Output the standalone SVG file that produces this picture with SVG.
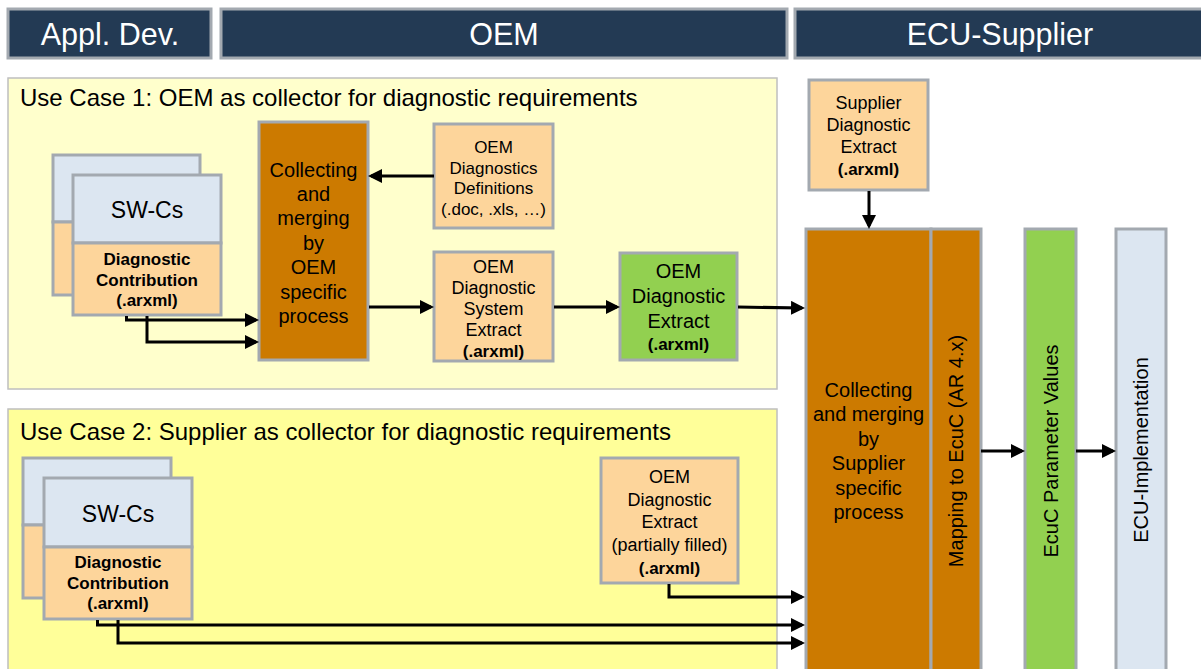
<svg xmlns="http://www.w3.org/2000/svg" width="1201" height="669" viewBox="0 0 1201 669">
<style>
text{font-family:"Liberation Sans",Arial,sans-serif;fill:#000}
.hdr{fill:#233a54;stroke:#a3a9b0;stroke-width:3}
.hdrt{fill:#fff;font-size:30.5px;text-anchor:middle}
.panel{stroke:#bfbfbf;stroke-width:1.5}
.title{font-size:24px}
.box{stroke:#a3a9b0;stroke-width:3}
.blue{fill:#dce6f1}
.lo{fill:#fdd59b}
.dk{fill:#cc7a00}
.gr{fill:#92d050}
.t17{font-size:17px;text-anchor:middle}
.t18{font-size:18px;text-anchor:middle}
.b17{font-size:17px;font-weight:bold;text-anchor:middle}
.t20{font-size:20px;text-anchor:middle}
.t23{font-size:23px;text-anchor:middle}
.con{fill:none;stroke:#000;stroke-width:3;marker-end:url(#ah)}
</style>
<defs>
<marker id="ah" markerUnits="userSpaceOnUse" markerWidth="14" markerHeight="14" refX="11" refY="7" orient="auto">
<path d="M0,0 L14,7 L0,14 z" fill="#000"/>
</marker>
</defs>
<rect width="1201" height="669" fill="#fff"/>

<g id="hdr-appl"><rect class="hdr" x="8" y="9" width="203" height="49"/><text class="hdrt" x="110" y="45">Appl. Dev.</text></g>
<g id="hdr-oem"><rect class="hdr" x="221" y="9" width="566" height="49"/><text class="hdrt" x="504" y="45">OEM</text></g>
<g id="hdr-ecu"><rect class="hdr" x="795" y="9" width="410" height="49"/><text class="hdrt" x="1000" y="45">ECU-Supplier</text></g>

<g id="uc1"><rect class="panel" x="8" y="78" width="769" height="311" fill="#ffffcc"/><text class="title" x="20" y="106">Use Case 1: OEM as collector for diagnostic requirements</text></g>
<g id="uc2"><rect class="panel" x="8" y="409" width="769" height="270" fill="#ffff99"/><text class="title" x="20" y="440">Use Case 2: Supplier as collector for diagnostic requirements</text></g>

<g id="swc1">
<rect class="box blue" x="53" y="155" width="147" height="67"/>
<rect class="box lo" x="53" y="222" width="147" height="73"/>
<rect class="box blue" x="73" y="175" width="148" height="68"/>
<rect class="box lo" x="73" y="243" width="148" height="72"/>
<text class="t23" x="147" y="218">SW-Cs</text>
<text class="b17" x="147" y="265">Diagnostic</text>
<text class="b17" x="147" y="285.5">Contribution</text>
<text class="b17" x="147" y="306">(.arxml)</text>
</g>

<g id="collect-oem">
<rect class="box dk" x="259" y="122" width="109" height="238"/>
<text class="t20" x="313.5" y="176.5">Collecting</text>
<text class="t20" x="313.5" y="200.9">and</text>
<text class="t20" x="313.5" y="225.3">merging</text>
<text class="t20" x="313.5" y="249.7">by</text>
<text class="t20" x="313.5" y="274.1">OEM</text>
<text class="t20" x="313.5" y="298.5">specific</text>
<text class="t20" x="313.5" y="322.9">process</text>
</g>

<g id="oem-defs">
<rect class="box lo" x="434" y="124" width="119" height="104"/>
<text class="t17" x="493.5" y="153">OEM</text>
<text class="t17" x="493.5" y="173.5">Diagnostics</text>
<text class="t17" x="493.5" y="194">Definitions</text>
<text class="t17" x="493.5" y="214.5">(.doc, .xls, …)</text>
</g>

<g id="oem-sys">
<rect class="box lo" x="434" y="252" width="119" height="109"/>
<text class="t18" x="493.5" y="272.5">OEM</text>
<text class="t18" x="493.5" y="293.5">Diagnostic</text>
<text class="t18" x="493.5" y="314.5">System</text>
<text class="t18" x="493.5" y="335.5">Extract</text>
<text class="b17" x="493.5" y="356.5">(.arxml)</text>
</g>

<g id="oem-extract">
<rect class="box gr" x="620" y="253" width="117" height="107"/>
<text class="t20" x="678.5" y="278">OEM</text>
<text class="t20" x="678.5" y="303">Diagnostic</text>
<text class="t20" x="678.5" y="328">Extract</text>
<text class="b17" x="678.5" y="350">(.arxml)</text>
</g>

<g id="supplier-extract">
<rect class="box lo" x="809" y="80" width="119" height="110"/>
<text class="t18" x="868.5" y="108.5">Supplier</text>
<text class="t18" x="868.5" y="131">Diagnostic</text>
<text class="t18" x="868.5" y="153">Extract</text>
<text class="b17" x="868.5" y="175">(.arxml)</text>
</g>

<g id="collect-supplier">
<rect class="box dk" x="806" y="229" width="125" height="450"/>
<text class="t20" x="868.5" y="396.5">Collecting</text>
<text class="t20" x="868.5" y="421">and merging</text>
<text class="t20" x="868.5" y="445.5">by</text>
<text class="t20" x="868.5" y="470">Supplier</text>
<text class="t20" x="868.5" y="494.5">specific</text>
<text class="t20" x="868.5" y="519">process</text>
</g>

<g id="mapping">
<rect class="box dk" x="931" y="229" width="50" height="450"/>
<text class="t20" transform="translate(956,451) rotate(-90)" y="7">Mapping to EcuC (AR 4.x)</text>
</g>

<g id="ecuc">
<rect class="box gr" x="1025" y="229" width="51" height="450"/>
<text class="t20" transform="translate(1050.5,451) rotate(-90)" y="7">EcuC Parameter Values</text>
</g>

<g id="ecu-impl">
<rect class="box blue" x="1116" y="229" width="50" height="450"/>
<text class="t20" transform="translate(1141,450) rotate(-90)" y="7">ECU-Implementation</text>
</g>

<g id="swc2">
<rect class="box blue" x="23" y="458" width="148" height="67"/>
<rect class="box lo" x="23" y="525" width="148" height="73"/>
<rect class="box blue" x="44" y="478" width="148" height="69"/>
<rect class="box lo" x="44" y="547" width="148" height="72"/>
<text class="t23" x="118" y="521.5">SW-Cs</text>
<text class="b17" x="118" y="568">Diagnostic</text>
<text class="b17" x="118" y="588.5">Contribution</text>
<text class="b17" x="118" y="609">(.arxml)</text>
</g>

<g id="oem-partial">
<rect class="box lo" x="601" y="458" width="137" height="125"/>
<text class="t18" x="669.5" y="482.5">OEM</text>
<text class="t18" x="669.5" y="505.5">Diagnostic</text>
<text class="t18" x="669.5" y="528">Extract</text>
<text class="t18" x="669.5" y="551">(partially filled)</text>
<text class="b17" x="669.5" y="573.5">(.arxml)</text>
</g>

<g id="connectors">
<path class="con" d="M434,176 H371"/>
<path class="con" d="M126.5,316 V320 H256"/>
<path class="con" d="M147,316 V342 H256"/>
<path class="con" d="M369,307 H431"/>
<path class="con" d="M554,307 H617"/>
<path class="con" d="M738,307 L802,308"/>
<path class="con" d="M869,191 V226"/>
<path class="con" d="M981,451 H1022"/>
<path class="con" d="M1076,451 H1113"/>
<path class="con" d="M669,584 V597 H802"/>
<path class="con" d="M97.5,620 V625 H802"/>
<path class="con" d="M118,620 V643 H802"/>
</g>
</svg>
